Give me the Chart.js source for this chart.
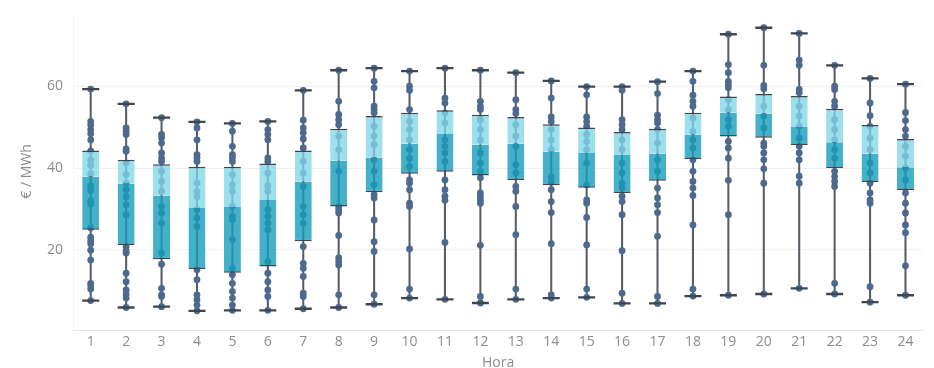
<!DOCTYPE html>
<html>
<head>
<meta charset="utf-8">
<script src="https://cdn.jsdelivr.net/npm/chart.js@4"></script>
<style>
  html, body { margin: 0; padding: 0; background: #fff; }
  #wrap { width: 934px; height: 368px; }
</style>
</head>
<body>
<div id="wrap"><canvas id="boxChart"></canvas></div>
<script>
// --- Data (€/MWh by hour) ---
const hours = ['1','2','3','4','5','6','7','8','9','10','11','12','13','14','15','16','17','18','19','20','21','22','23','24'];
const whiskerLow  = [7.6, 5.9, 6.1, 5.1, 5.2, 5.2, 5.6, 5.9, 6.7, 8.2, 7.9, 7.0, 7.9, 8.2, 8.4, 6.9, 6.9, 8.7, 8.9, 9.2, 10.6, 9.2, 7.2, 8.9];
const q1          = [24.9, 21.2, 17.7, 15.3, 14.4, 15.9, 22.1, 30.6, 34.1, 38.6, 39.1, 38.2, 37.1, 35.8, 35.2, 33.9, 36.9, 42.2, 47.7, 47.4, 45.6, 40.0, 36.6, 34.6];
const median      = [37.9, 36.2, 33.3, 30.2, 30.5, 32.2, 36.7, 41.8, 42.6, 46.0, 48.3, 45.7, 46.0, 44.0, 43.7, 43.2, 43.5, 48.2, 53.6, 53.3, 50.0, 46.3, 43.5, 40.2];
const q3          = [44.3, 42.0, 40.9, 40.3, 40.3, 41.1, 44.3, 49.6, 52.7, 53.5, 54.1, 53.0, 52.5, 50.7, 49.9, 48.8, 49.6, 53.5, 57.5, 58.1, 57.6, 54.5, 50.5, 47.1];
const whiskerHigh = [59.3, 55.7, 52.3, 51.3, 50.9, 51.4, 59.0, 63.9, 64.4, 63.7, 64.4, 63.9, 63.3, 61.3, 59.9, 59.9, 61.1, 63.7, 72.7, 74.3, 72.9, 65.1, 61.9, 60.5];

// individual daily observations per hour
const dots = [
  [59.3, 51.4, 50.5, 49.4, 48.4, 46.9, 44.2, 41.9, 40.6, 38.6, 35.7, 34.5, 32.0, 31.2, 25.4, 23.1, 22.2, 21.5, 19.9, 17.5, 11.8, 11.2, 10.4, 7.6],
  [55.7, 49.8, 49.0, 48.2, 44.7, 44.1, 41.2, 38.4, 36.3, 34.7, 33.0, 31.0, 28.6, 20.8, 19.8, 19.2, 14.3, 12.2, 10.2, 9.1, 8.2, 5.9],
  [52.3, 48.2, 47.4, 46.1, 43.7, 42.5, 41.6, 39.2, 36.7, 34.3, 30.6, 29.0, 26.5, 19.2, 16.5, 10.6, 9.0, 8.6, 6.1],
  [51.3, 49.8, 46.9, 43.3, 42.5, 41.6, 36.3, 34.3, 33.0, 29.8, 27.8, 25.7, 15.1, 12.7, 9.0, 7.8, 6.5, 5.1],
  [50.9, 49.0, 45.3, 43.3, 42.5, 41.6, 38.4, 35.9, 34.3, 30.6, 28.2, 27.3, 22.5, 15.5, 13.9, 11.8, 9.8, 8.2, 6.5, 5.2],
  [51.4, 49.4, 48.2, 46.9, 42.5, 41.6, 38.8, 35.6, 34.3, 29.8, 28.2, 26.5, 24.9, 17.1, 14.3, 12.2, 10.2, 8.6, 5.2],
  [59.0, 51.7, 49.8, 48.6, 47.1, 44.9, 41.6, 38.8, 35.5, 30.6, 28.6, 26.5, 20.8, 16.7, 15.5, 13.5, 9.4, 8.6, 5.6],
  [63.9, 56.3, 53.1, 51.8, 50.6, 47.8, 44.5, 39.2, 30.6, 29.8, 29.0, 23.5, 18.0, 17.2, 16.3, 9.0, 5.9],
  [64.4, 61.2, 59.6, 55.1, 54.3, 53.5, 50.2, 47.8, 45.7, 42.0, 39.2, 35.9, 33.5, 32.7, 27.3, 22.0, 19.6, 9.0, 6.7],
  [63.7, 60.0, 59.0, 54.3, 51.4, 49.4, 46.9, 44.5, 42.4, 40.4, 37.1, 36.3, 34.7, 31.4, 30.6, 20.2, 10.4, 8.2],
  [64.4, 57.1, 55.9, 53.5, 51.0, 46.9, 45.3, 43.7, 41.6, 37.1, 34.7, 33.1, 32.1, 21.8, 7.9],
  [63.9, 56.3, 55.1, 54.3, 51.8, 49.4, 46.9, 43.7, 41.2, 39.2, 37.6, 33.9, 33.1, 32.2, 31.4, 21.1, 8.6, 7.0],
  [63.3, 56.7, 54.3, 53.3, 50.6, 47.8, 45.3, 40.8, 38.8, 35.5, 34.3, 30.6, 23.7, 10.4, 7.9],
  [61.3, 57.1, 52.5, 51.4, 49.4, 46.9, 44.5, 37.8, 36.5, 34.7, 31.8, 29.1, 21.5, 9.0, 8.2],
  [59.9, 57.9, 52.5, 51.4, 50.2, 48.2, 46.5, 44.5, 41.2, 35.9, 32.2, 31.4, 27.9, 21.2, 10.4, 8.4],
  [59.9, 59.0, 51.8, 50.6, 49.4, 46.9, 44.5, 41.2, 38.8, 36.3, 35.1, 33.1, 31.8, 28.6, 19.8, 9.4, 6.9],
  [61.1, 58.2, 52.9, 51.8, 51.0, 49.4, 46.1, 42.0, 39.2, 35.1, 32.7, 31.0, 29.1, 23.3, 8.6, 6.9],
  [63.7, 61.2, 57.8, 56.3, 55.1, 52.2, 48.9, 46.9, 44.9, 42.0, 39.2, 36.7, 35.1, 33.3, 26.1, 10.4, 8.7],
  [72.7, 65.3, 63.3, 61.2, 60.4, 59.6, 56.7, 54.3, 51.8, 50.2, 46.5, 44.9, 42.4, 37.0, 28.6, 8.9],
  [74.3, 65.1, 60.2, 59.4, 55.1, 52.7, 49.8, 46.1, 45.3, 43.7, 42.0, 39.8, 36.3, 9.2],
  [72.9, 66.4, 65.1, 59.2, 58.4, 55.1, 52.7, 50.2, 47.3, 45.3, 43.7, 42.0, 38.0, 36.3, 10.6],
  [65.1, 60.0, 59.2, 56.3, 55.1, 51.8, 49.4, 46.9, 44.5, 42.4, 39.2, 37.9, 36.7, 35.5, 11.8, 9.2],
  [61.9, 55.9, 52.8, 50.2, 47.3, 44.5, 41.2, 38.8, 36.3, 33.9, 32.2, 31.4, 11.0, 7.2],
  [60.5, 53.6, 51.6, 49.4, 47.8, 45.3, 42.9, 40.0, 37.1, 33.9, 31.4, 29.0, 26.1, 24.2, 16.1, 8.9]
];

const yTicks = [20, 40, 60];

document.addEventListener('DOMContentLoaded', () => {
    const FONT = '"Open Sans", "Noto Sans", sans-serif';
    const TEXT = '#8c8c8c';
    const DARK = '#3e4650';

    const dotPoints = [];
    hours.forEach((h, i) => dots[i].forEach(v => dotPoints.push({ x: h, y: v })));

    const ctx = document.getElementById('boxChart').getContext('2d');
    new Chart(ctx, {
        type: 'bar',
        data: {
            labels: hours,
            datasets: [
                {
                    // whisker caps
                    type: 'line',
                    data: hours.map((h, i) => ({ x: h, y: whiskerLow[i] }))
                        .concat(hours.map((h, i) => ({ x: h, y: whiskerHigh[i] }))),
                    showLine: false,
                    pointStyle: 'line',
                    pointRadius: 8.5,
                    borderWidth: 2.3,
                    borderColor: DARK,
                    order: 0
                },
                {
                    // upper box: median -> q3
                    data: hours.map((h, i) => [median[i], q3[i]]),
                    backgroundColor: 'rgba(128, 214, 232, 0.78)',
                    borderColor: DARK,
                    borderWidth: { top: 1.5, bottom: 0, left: 0, right: 0 },
                    borderSkipped: false,
                    grouped: false,
                    barPercentage: 0.48,
                    categoryPercentage: 1,
                    order: 1
                },
                {
                    // lower box: q1 -> median
                    data: hours.map((h, i) => [q1[i], median[i]]),
                    backgroundColor: 'rgba(22, 158, 188, 0.8)',
                    borderColor: DARK,
                    borderWidth: { top: 0, bottom: 1.5, left: 0, right: 0 },
                    borderSkipped: false,
                    grouped: false,
                    barPercentage: 0.48,
                    categoryPercentage: 1,
                    order: 2
                },
                {
                    // daily observations
                    type: 'line',
                    data: dotPoints,
                    showLine: false,
                    pointRadius: 3.4,
                    pointBackgroundColor: '#4d6a8e',
                    pointBorderWidth: 0,
                    order: 3
                },
                {
                    // whisker line
                    data: hours.map((h, i) => [whiskerLow[i], whiskerHigh[i]]),
                    backgroundColor: '#555d67',
                    borderWidth: 0,
                    grouped: false,
                    barThickness: 1.4,
                    order: 4
                }
            ]
        },
        options: {
            responsive: true,
            maintainAspectRatio: false,
            animation: false,
            layout: { padding: { top: 13, right: 2, left: 0, bottom: 0 } },
            plugins: {
                legend: { display: false },
                tooltip: { enabled: false }
            },
            scales: {
                x: {
                    type: 'category',
                    offset: true,
                    grid: { display: false, drawTicks: false },
                    border: { display: true, color: 'rgba(0,0,0,0.1)' },
                    ticks: {
                        color: TEXT,
                        font: { family: FONT, size: 14 },
                        padding: 4,
                        maxRotation: 0,
                        autoSkip: false
                    },
                    title: {
                        display: true,
                        text: 'Hora',
                        color: TEXT,
                        font: { family: FONT, size: 14, lineHeight: 0.7 },
                        padding: { top: 0, bottom: 0 }
                    },
                    afterFit: (scale) => {
                        scale.height = 38;
                        scale.paddingLeft = 0;
                        scale.paddingRight = 0;
                    }
                },
                y: {
                    min: 0.4,
                    max: 77.9,
                    afterBuildTicks: (scale) => {
                        scale.ticks = yTicks.map(v => ({ value: v }));
                    },
                    grid: {
                        color: 'rgba(0,0,0,0.06)',
                        drawTicks: false
                    },
                    border: { display: true, color: 'rgba(0,0,0,0.04)' },
                    ticks: {
                        color: TEXT,
                        font: { family: FONT, size: 14 },
                        padding: 10
                    },
                    title: {
                        display: true,
                        text: '€ / MWh',
                        color: TEXT,
                        font: { family: FONT, size: 14, lineHeight: 1 },
                        padding: { top: 20, bottom: 0 }
                    },
                    afterFit: (scale) => {
                        scale.width = 73;
                        scale.paddingTop = 0;
                        scale.paddingBottom = 0;
                    }
                }
            }
        }
    });
});
</script>
</body>
</html>
